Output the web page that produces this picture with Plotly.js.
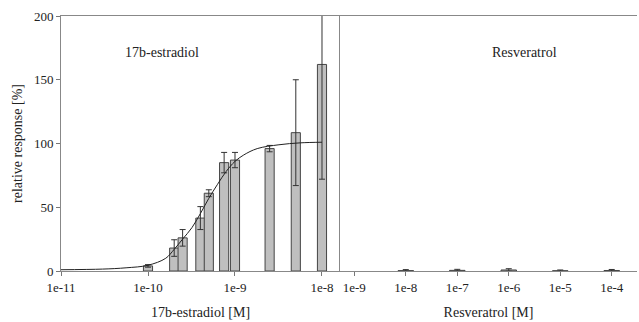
<!DOCTYPE html>
<html>
<head>
<meta charset="utf-8">
<script src="https://cdn.plot.ly/plotly-3.0.1.min.js"></script>
<style>html,body{margin:0;padding:0;background:#fff}#chart{width:639px;height:322px}</style>
</head>
<body>
<div id="chart"></div>
<script>
// 17b-estradiol bars
const e2Conc = [1e-10, 2e-10, 2.5e-10, 4e-10, 5e-10, 7.5e-10, 1e-9, 2.5e-9, 5e-9, 1e-8];
const e2Resp = [4, 18, 26, 41.5, 61, 85, 87, 96, 108.5, 162];
const e2Err  = [1, 6.5, 6.5, 9, 2.7, 8, 6, 2.5, 41.5, 90];
// fitted curve
const fitConc = [1e-11, 3e-11, 5.6e-11, 1e-10, 1.6e-10, 2e-10, 2.5e-10, 3.2e-10, 4e-10, 5e-10, 6.3e-10, 7.9e-10, 1e-9, 1.26e-9, 1.8e-9, 3.2e-9, 5.6e-9, 1e-8];
const fitResp = [1, 1.5, 2.5, 4.5, 10, 17, 25, 34, 45, 57, 68, 78, 86, 91, 96, 99, 100.5, 101];
// Resveratrol bars
const resConc = [1e-8, 1e-7, 1e-6, 1e-5, 1e-4];
const resResp = [0.3, 0.5, 0.8, 0.2, 0.4];
const resErr  = [0.8, 0.8, 1.0, 0.6, 0.8];
// ticks
const leftTicks = [1e-11, 1e-10, 1e-9, 1e-8];
const rightTicks = [1e-9, 1e-8, 1e-7, 1e-6, 1e-5, 1e-4];
const tickLabel = v => '1e' + Math.round(Math.log10(v));

const lg = a => a.map(v => Math.log10(v));
const FAM = '"Liberation Serif", "Times New Roman", serif';
const font = {family: FAM, size: 13, color: '#222'};
const tfont = {family: FAM, size: 14, color: '#222'};
const barStyle = {color: '#bfbfbf', line: {color: '#444', width: 1}};
const errStyle = (arr) => ({type: 'data', array: arr, visible: true, color: '#333', thickness: 1, width: 3});

const traces = [
  {type: 'bar', x: lg(e2Conc), y: e2Resp, width: 0.105, marker: barStyle,
   error_y: errStyle(e2Err), xaxis: 'x', yaxis: 'y', showlegend: false, hoverinfo: 'skip'},
  {type: 'scatter', mode: 'lines', x: lg(fitConc), y: fitResp, line: {color: '#222', width: 1, shape: 'spline'},
   xaxis: 'x', yaxis: 'y', showlegend: false, hoverinfo: 'skip'},
  {type: 'bar', x: lg(resConc), y: resResp, width: 0.3, marker: barStyle,
   error_y: errStyle(resErr), xaxis: 'x2', yaxis: 'y2', showlegend: false, hoverinfo: 'skip'}
];

const d1 = (340 - 61) / 576;
const layout = {
  width: 639, height: 322,
  margin: {l: 61, r: 2, t: 16, b: 51, pad: 0},
  paper_bgcolor: '#fff', plot_bgcolor: '#fff',
  font: font,
  bargap: 0,
  xaxis: {domain: [0, d1], range: [-11, -7.793], tickmode: 'array', tickvals: lg(leftTicks),
          ticktext: leftTicks.map(tickLabel), ticks: 'outside', ticklen: 4, tickcolor: '#777',
          showline: true, linecolor: '#888', linewidth: 1, mirror: true, showgrid: false, zeroline: false,
          anchor: 'y', title: {text: '17b-estradiol [M]', font: tfont, standoff: 13}},
  xaxis2: {domain: [d1, 1], range: [-9.278, -3.509], tickmode: 'array', tickvals: lg(rightTicks),
          ticktext: rightTicks.map(tickLabel), ticks: 'outside', ticklen: 4, tickcolor: '#777',
          showline: true, linecolor: '#888', linewidth: 1, mirror: true, showgrid: false, zeroline: false,
          anchor: 'y2', title: {text: 'Resveratrol [M]', font: tfont, standoff: 13}},
  yaxis: {domain: [0, 1], range: [0, 200], tickvals: [0, 50, 100, 150, 200], ticks: 'outside', ticklen: 4,
          tickcolor: '#777', showline: true, linecolor: '#888', linewidth: 1, showgrid: false, zeroline: false,
          anchor: 'x', title: {text: 'relative response [%]', font: tfont, standoff: 8}},
  yaxis2: {domain: [0, 1], range: [0, 200], showticklabels: false, ticks: '', showline: true,
          linecolor: '#888', linewidth: 1, showgrid: false, zeroline: false, anchor: 'x2'},
  annotations: [
    {text: '17b-estradiol', xref: 'x', yref: 'y', x: -9.839, y: 171, showarrow: false, font: tfont},
    {text: 'Resveratrol', xref: 'x2', yref: 'y2', x: -5.70, y: 171, showarrow: false, font: tfont}
  ]
};
Plotly.newPlot('chart', traces, layout, {displayModeBar: false, staticPlot: true});
</script>
</body>
</html>
